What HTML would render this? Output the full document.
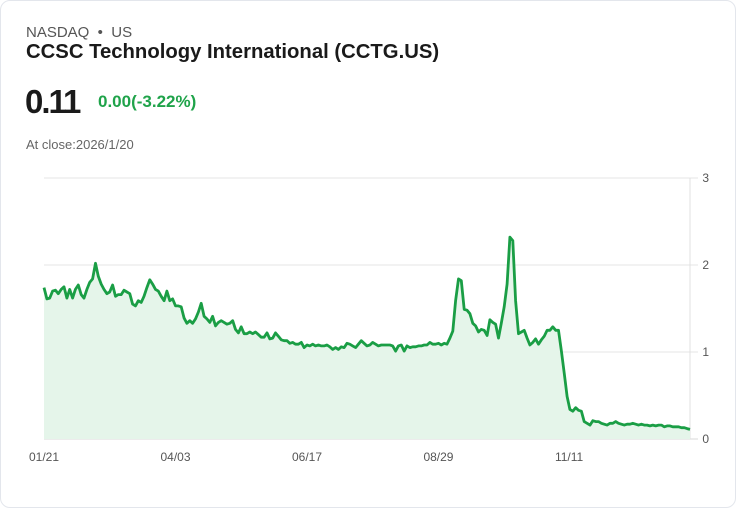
<!DOCTYPE html>
<html><head><meta charset="utf-8">
<style>
html,body{margin:0;padding:0;background:#fff;}
body{width:736px;height:508px;overflow:hidden;font-family:"Liberation Sans",sans-serif;}
.card{position:absolute;left:0;top:0;width:734px;height:506px;border:1px solid #e3e6ec;border-radius:10px;background:#fff;}
.t{position:absolute;white-space:nowrap;}
</style></head><body>
<div class="card">
<div class="t" style="left:25px;top:23px;font-size:15px;color:#555;">NASDAQ &nbsp;•&nbsp; US</div>
<div class="t" style="left:25px;top:40px;font-size:20.3px;font-weight:bold;color:#1a1a1a;">CCSC Technology International (CCTG.US)</div>
<div class="t" style="left:24px;top:82px;font-size:33px;font-weight:bold;color:#1a1a1a;letter-spacing:-2px;">0.11</div>
<div class="t" style="left:97px;top:91px;font-size:17px;font-weight:bold;color:#1fa34a;">0.00(-3.22%)</div>
<div class="t" style="left:25px;top:136px;font-size:13px;color:#666;">At close:2026/1/20</div>
<svg id="chart" width="736" height="508" style="position:absolute;left:0;top:0;"></svg>
</div>
<script>
const values=[1.74,1.61,1.62,1.70,1.71,1.67,1.72,1.75,1.62,1.72,1.62,1.72,1.77,1.66,1.62,1.72,1.80,1.84,2.02,1.87,1.78,1.72,1.67,1.69,1.77,1.64,1.66,1.66,1.71,1.69,1.67,1.55,1.53,1.59,1.57,1.64,1.74,1.83,1.78,1.72,1.70,1.64,1.59,1.70,1.59,1.61,1.53,1.53,1.52,1.39,1.33,1.36,1.33,1.38,1.46,1.56,1.41,1.38,1.34,1.41,1.30,1.34,1.36,1.34,1.32,1.33,1.36,1.26,1.22,1.29,1.21,1.21,1.23,1.21,1.23,1.20,1.17,1.17,1.22,1.15,1.16,1.22,1.18,1.14,1.13,1.13,1.10,1.11,1.09,1.09,1.11,1.05,1.08,1.07,1.09,1.07,1.08,1.07,1.07,1.08,1.06,1.03,1.05,1.03,1.06,1.05,1.10,1.09,1.07,1.05,1.09,1.13,1.10,1.07,1.08,1.11,1.09,1.07,1.08,1.08,1.08,1.08,1.07,1.01,1.07,1.08,1.01,1.07,1.05,1.06,1.06,1.07,1.07,1.08,1.08,1.11,1.09,1.09,1.10,1.08,1.10,1.09,1.16,1.24,1.59,1.84,1.82,1.49,1.48,1.44,1.33,1.30,1.23,1.26,1.25,1.19,1.37,1.34,1.32,1.16,1.33,1.52,1.78,2.32,2.28,1.59,1.21,1.23,1.25,1.16,1.08,1.11,1.15,1.09,1.14,1.18,1.25,1.25,1.29,1.25,1.25,1.01,0.76,0.49,0.34,0.32,0.36,0.33,0.32,0.20,0.18,0.16,0.21,0.20,0.20,0.18,0.17,0.16,0.18,0.18,0.20,0.18,0.17,0.16,0.17,0.17,0.18,0.17,0.16,0.17,0.16,0.16,0.15,0.16,0.15,0.16,0.16,0.14,0.15,0.15,0.14,0.14,0.14,0.13,0.13,0.12,0.11];
const yTicks=[0,1,2,3];
const xLabels=["01/21","04/03","06/17","08/29","11/11"];
const xLabelIdx=[0,46,92,138,184];
const svg=document.getElementById('chart');
const NS='http://www.w3.org/2000/svg';
const X0=43,X1=689,Y0=438,YPU=87;
const xs=i=>X0+(X1-X0)*i/(values.length-1);
const ys=v=>Y0-v*YPU;
function mk(tag,attrs){const e=document.createElementNS(NS,tag);for(const k in attrs)e.setAttribute(k,attrs[k]);svg.appendChild(e);return e;}
yTicks.forEach(t=>{
  const g=mk('line',{x1:X0,x2:X1+8,y1:ys(t),y2:ys(t),stroke:t===0?'#d8d8d8':'#e6e6e6','stroke-width':1});
  
  
  const tx=mk('text',{x:708,y:ys(t)+4,'text-anchor':'end','font-size':12,fill:'#555','font-family':'Liberation Sans, sans-serif'});
  tx.textContent=t;
  
  
});
const ax=mk('line',{x1:X1,x2:X1,y1:ys(3),y2:Y0,stroke:'#e0e0e0','stroke-width':1});


xLabels.forEach((l,k)=>{
  const tx=mk('text',{x:xs(xLabelIdx[k])-15,y:460,'font-size':12,fill:'#555','font-family':'Liberation Sans, sans-serif'});
  tx.textContent=l;
  
  
});
let d='';values.forEach((v,i)=>{d+=(i?'L':'M')+xs(i).toFixed(1)+','+ys(v).toFixed(1);});
const area=mk('path',{d:d+'L'+X1+','+Y0+'L'+X0+','+Y0+'Z',fill:'#e5f5ea'});


const line=mk('path',{d:d,fill:'none',stroke:'#1a9e45','stroke-width':2.8,'stroke-linejoin':'round'});


</script>
</body></html>
